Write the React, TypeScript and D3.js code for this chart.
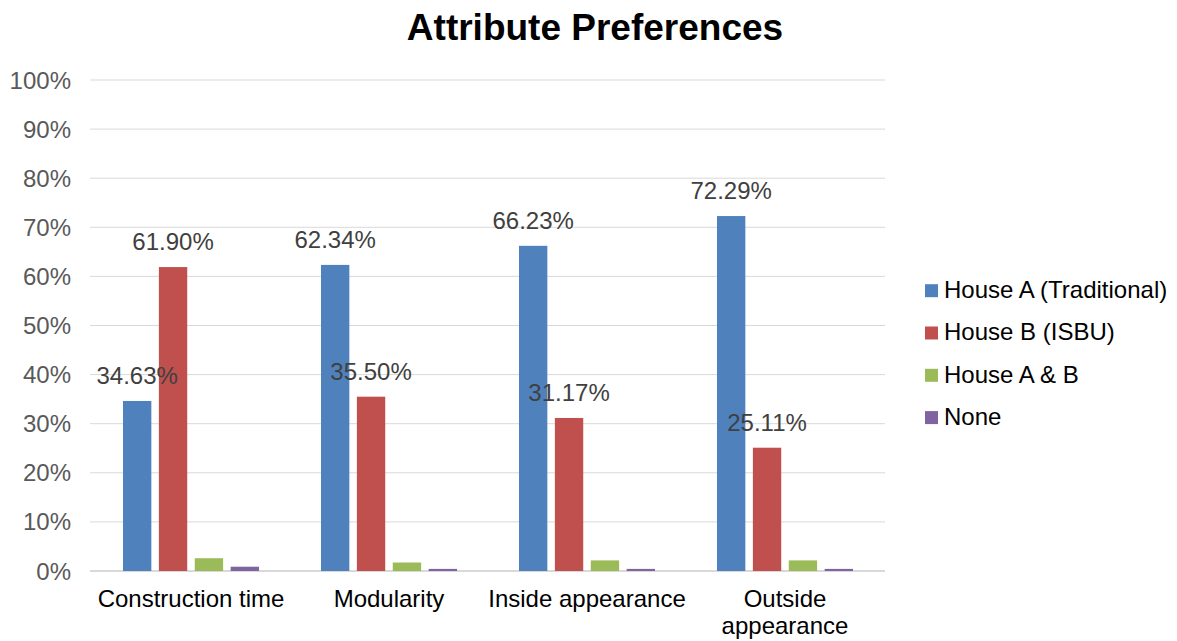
import React from "react";
import * as d3 from "d3";

const categories = ["Construction time", "Modularity", "Inside appearance", "Outside appearance"];
const seriesNames = ["House A (Traditional)", "House B (ISBU)", "House A & B", "None"];
const colors = ["#4F81BD", "#C0504D", "#9BBB59", "#8064A2"];
const houseA = [34.63, 62.34, 66.23, 72.29];
const houseB = [61.9, 35.5, 31.17, 25.11];
const houseAB = [2.6, 1.73, 2.16, 2.16];
const none = [0.87, 0.43, 0.43, 0.43];
const labeledSeries = [0, 1];
const yTicks = [0, 10, 20, 30, 40, 50, 60, 70, 80, 90, 100];

export default function App() {
  const W = 1177, H = 641;
  const left = 90, right = 885, top = 80, bottom = 571;
  const series = [houseA, houseB, houseAB, none];
  const x0 = d3.scaleBand().domain(categories).range([92, 884]).paddingInner(0.313).paddingOuter(0.1565);
  const x1 = d3.scaleBand().domain(seriesNames).range([0, x0.bandwidth()]).paddingInner(0.21);
  const y = d3.scaleLinear().domain([0, 100]).range([bottom, top]);
  const font = "Liberation Sans, Arial, sans-serif";
  return (
    <svg width={W} height={H} style={{ position: "absolute", left: 0, top: 0 }} fontFamily={font}>
      <rect width={W} height={H} fill="#fff" />
      <text x={595} y={40} textAnchor="middle" fontSize={37} fontWeight="bold" fill="#000">Attribute Preferences</text>
      {yTicks.map(t => (
        <g key={t}>
          <line x1={left} x2={right} y1={y(t)} y2={y(t)} stroke="#D9D9D9" strokeWidth={t === 0 ? 2 : 1} />
          <text x={71} y={y(t) + 8.5} textAnchor="end" fontSize={24} fill="#595959">{t}%</text>
        </g>
      ))}
      {categories.map((c, ci) => (
        <g key={c}>
          {series.map((s, si) => {
            const bx = (x0(c) as number) + (x1(seriesNames[si]) as number);
            return (
              <rect key={si} x={bx} y={y(s[ci])} width={x1.bandwidth()} height={bottom - y(s[ci])} fill={colors[si]} />
            );
          })}
        </g>
      ))}
      {categories.map((c, ci) =>
        labeledSeries.map(si => {
          const s = series[si];
          const bx = (x0(c) as number) + (x1(seriesNames[si]) as number) + x1.bandwidth() / 2;
          return (
            <text key={c + si} x={bx} y={y(s[ci]) - 17} textAnchor="middle" fontSize={24} fill="#404040">
              {s[ci].toFixed(2)}%
            </text>
          );
        })
      )}
      {categories.map(c => {
        const cx = (x0(c) as number) + x0.bandwidth() / 2;
        const words = c === "Outside appearance" ? ["Outside", "appearance"] : [c];
        return (
          <text key={c} x={cx} y={607} textAnchor="middle" fontSize={24} fill="#000">
            {words.map((w, i) => (
              <tspan key={i} x={cx} dy={i === 0 ? 0 : 27}>{w}</tspan>
            ))}
          </text>
        );
      })}
      {seriesNames.map((n, i) => (
        <g key={n} transform={`translate(925, ${290.7 + i * 42.3})`}>
          <rect x={0} y={-6.5} width={13} height={13} fill={colors[i]} />
          <text x={19} y={7.2} fontSize={24} fill="#000">{n}</text>
        </g>
      ))}
    </svg>
  );
}
